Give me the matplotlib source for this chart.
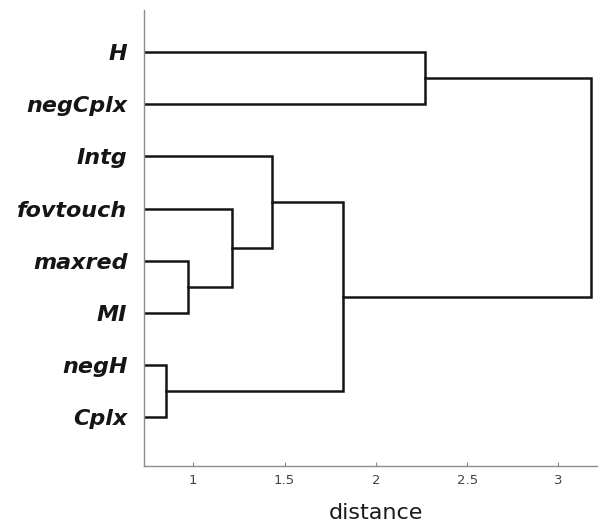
import numpy as np
import matplotlib
matplotlib.use('Agg')
import matplotlib.pyplot as plt

# leaves, top to bottom
LEAVES = ['H', 'negCplx', 'Intg', 'fovtouch', 'maxred', 'MI', 'negH', 'Cplx']

# merges: (child a, child b, distance); nodes numbered after the leaves
MERGE_A = [6, 4, 3, 2, 11, 0, 13]
MERGE_B = [7, 5, 9, 10, 8, 1, 12]
MERGE_DIST = [0.852, 0.973, 1.214, 1.433, 1.822, 2.271, 3.18]

XTICKS = [1, 1.5, 2, 2.5, 3]


def main():
    fig = plt.figure(figsize=(6.01, 5.26), dpi=100)
    ax = fig.add_axes([0.2396, 0.114, 0.7534, 0.867])

    n = len(LEAVES)
    ypos = {i: n - i for i in range(n)}
    xpos = {i: 0.0 for i in range(n)}

    for k, (a, b, d) in enumerate(zip(MERGE_A, MERGE_B, MERGE_DIST)):
        node = n + k
        ax.plot([xpos[a], d, d, xpos[b]], [ypos[a], ypos[a], ypos[b], ypos[b]],
                color='#151515', lw=1.8, solid_joinstyle='miter', clip_on=True)
        xpos[node] = d
        ypos[node] = (ypos[a] + ypos[b]) / 2

    ax.set_xlim(0.73, 3.21)
    ax.set_ylim(0.06, n + 0.81)

    ax.set_yticks([ypos[i] for i in range(n)])
    ax.set_yticklabels(LEAVES, fontsize=16, fontweight='bold', fontstyle='italic',
                       color='#151515')
    ax.tick_params(axis='y', length=0, pad=12)

    ax.set_xticks(XTICKS)
    ax.set_xticklabels([str(t) for t in XTICKS], fontsize=9.5, color='#444444')
    ax.tick_params(axis='x', direction='in', length=3, color='#888888', pad=6)

    ax.set_xlabel('distance', fontsize=16, color='#1a1a1a')
    ax.xaxis.set_label_coords(0.512, -0.08)

    for side in ['top', 'right']:
        ax.spines[side].set_visible(False)
    for side in ['left', 'bottom']:
        ax.spines[side].set_color('#8c8c8c')
        ax.spines[side].set_linewidth(1.0)

    fig.savefig('out.png', dpi=100)


if __name__ == '__main__':
    main()
